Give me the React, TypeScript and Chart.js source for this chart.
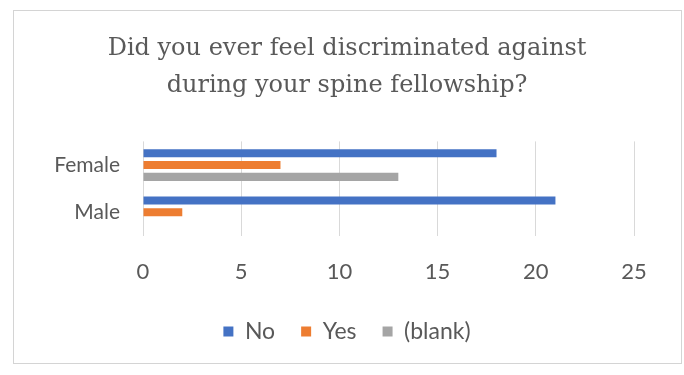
import { useEffect, useRef } from "react";
import { Chart, registerables } from "chart.js";

Chart.register(...registerables);

// Survey answers, counted per gender
const categories = ["Female", "Male"];
const seriesNames = ["No", "Yes", "(blank)"];
const noCounts = [18, 21];
const yesCounts = [7, 2];
const blankCounts: (number | null)[] = [13, null];
const titleLines = [
  "Did you ever feel discriminated against",
  "during your spine fellowship?",
];
const xTickValues = [0, 5, 10, 15, 20, 25];

const seriesColors = ["#4472C4", "#ED7D31", "#A5A5A5"];
const textColor = "#595959";
const gridColor = "#D9D9D9";
const sansFont = "Lato, 'Open Sans', sans-serif";

// Light outer frame and white background behind the whole chart
const framePlugin = {
  id: "frame",
  beforeDraw(chart: Chart) {
    const { ctx, width, height } = chart;
    ctx.save();
    ctx.fillStyle = "#FFFFFF";
    ctx.fillRect(0, 0, width, height);
    ctx.strokeStyle = "#D4D4D4";
    ctx.lineWidth = 1;
    ctx.strokeRect(13.5, 10.5, 668, 353);
    ctx.restore();
  },
};

export default function App() {
  const canvasRef = useRef<HTMLCanvasElement | null>(null);

  useEffect(() => {
    const canvas = canvasRef.current;
    if (!canvas) return;
    const chart = new Chart(canvas, {
      type: "bar",
      data: {
        labels: categories,
        datasets: [
          { label: seriesNames[0], data: noCounts, backgroundColor: seriesColors[0] },
          { label: seriesNames[1], data: yesCounts, backgroundColor: seriesColors[1] },
          { label: seriesNames[2], data: blankCounts, backgroundColor: seriesColors[2] },
        ],
      },
      options: {
        indexAxis: "y",
        responsive: false,
        animation: false,
        devicePixelRatio: 1,
        datasets: {
          bar: { categoryPercentage: 0.75, barPercentage: 0.68 },
        },
        layout: { padding: { left: 10, right: 0, top: 11, bottom: 22 } },
        scales: {
          x: {
            min: 0,
            max: 25,
            afterBuildTicks(scale: any) {
              scale.ticks = xTickValues.map((v) => ({ value: v }));
            },
            afterFit(scale: any) {
              scale.height = 58;
            },
            grid: { color: gridColor, drawTicks: false },
            border: { display: false },
            ticks: {
              color: textColor,
              padding: 23,
              font: { family: sansFont, size: 22 },
            },
          },
          y: {
            afterFit(scale: any) {
              scale.width = 133;
            },
            grid: { display: false, drawTicks: false },
            border: { display: false },
            ticks: {
              color: textColor,
              padding: 23,
              font: { family: sansFont, size: 21 },
            },
          },
          // empty right-hand margin so the plot ends at 25 while title and legend stay centred
          yRight: {
            type: "category",
            position: "right",
            afterFit(scale: any) {
              scale.width = 50;
            },
            grid: { display: false, drawTicks: false },
            border: { display: false },
            ticks: { display: false },
          },
        },
        plugins: {
          title: {
            display: true,
            text: titleLines,
            color: textColor,
            font: { family: "'DejaVu Serif', serif", size: 24, weight: "normal", lineHeight: 1.54 },
            padding: { top: 19.5, bottom: 37 },
          },
          legend: {
            display: true,
            position: "bottom",
            labels: {
              color: textColor,
              boxWidth: 10,
              boxHeight: 10,
              padding: 26,
              font: { family: sansFont, size: 23 },
            },
          },
          tooltip: { enabled: false },
        },
      },
      plugins: [framePlugin],
    });
    return () => chart.destroy();
  }, []);

  return (
    <div style={{ position: "fixed", left: 0, top: 0, width: 684, height: 375, background: "#fff" }}>
      <canvas ref={canvasRef} width={684} height={375} style={{ display: "block" }} />
    </div>
  );
}
